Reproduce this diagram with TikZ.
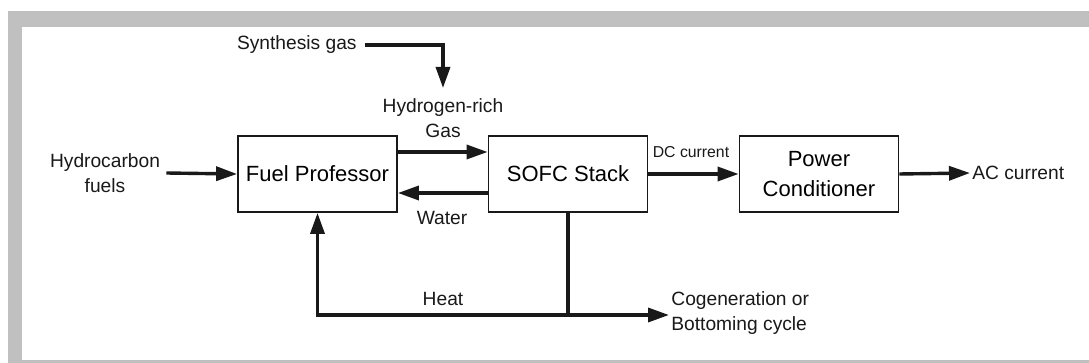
\documentclass[tikz,border=0pt]{standalone}
\usepackage{fontspec}
\setmainfont{Liberation Sans}
\definecolor{framegray}{RGB}{192,192,192}
\definecolor{inkblack}{RGB}{25,25,25}
\usetikzlibrary{arrows.meta,positioning}

\begin{document}
\begin{tikzpicture}[x=0.5pt, y=-0.5pt,
  blockbox/.style={draw=inkblack, line width=0.9pt, minimum width=79.5pt,
    minimum height=38pt, align=center, inner sep=2pt,
    font=\fontsize{11}{15}\selectfont},
  tag/.style={inner sep=1pt, align=center, text=inkblack,
    font=\fontsize{9.6}{12.5}\selectfont},
  flow/.style={-{Triangle[length=10.5pt, width=7pt]}, inkblack, line width=1.7pt},
  pipe/.style={inkblack, line width=1.7pt}]

% Frame
\useasboundingbox (0,0) rectangle (1089,363);
\fill[framegray] (8,11) rectangle (1089,363);
\fill[white] (22,27) rectangle (1089,360);

% Blocks
\node[blockbox] (fuel) at (317.5,174) {Fuel Professor};
\node[blockbox] (sofc) at (568,174) {SOFC Stack};
\node[blockbox] (power) at (819,174) {Power\\Conditioner};

% Labels
\node[tag, inner sep=3pt] (hcfuel) at (105,173) {Hydrocarbon\\fuels};
\node[tag, anchor=east, inner sep=4pt] (syngas) at (365,45) {Synthesis gas};
\node[tag] (h2gas) at (443,118) {Hydrogen-rich\\Gas};
\node[tag] (water) at (442,218) {Water};
\node[tag, font=\fontsize{7.9}{9.5}\selectfont] (dccur) at (691,152) {DC current};
\node[tag, anchor=west] (accur) at (970,173) {AC current};
\node[tag] (heat) at (443,299) {Heat};
\node[tag, anchor=west, align=left] (cogen) at (669,313) {Cogeneration or\\Bottoming cycle};

\coordinate (syntip) at (443,88);
\coordinate (heatjoin) at (568,315);

% Connecting arrows
\draw[flow] (hcfuel.east) -- (fuel.west);
\draw[flow] (syngas.east) -| (syntip);
\draw[flow] ([yshift=11pt]fuel.east) -- ([yshift=11pt]sofc.west);
\draw[flow] ([yshift=-9.5pt]sofc.east -| sofc.west) -- ([yshift=-9.5pt]fuel.east);
\draw[flow] (sofc.east) -- (power.west);
\draw[flow] (power.east) -- (accur.west);
\draw[pipe] (sofc.south) -- (heatjoin);
\draw[flow] (heatjoin) -| (fuel.south);
\draw[flow] (heatjoin) -- (heatjoin -| cogen.west);

\end{tikzpicture}
\end{document}
